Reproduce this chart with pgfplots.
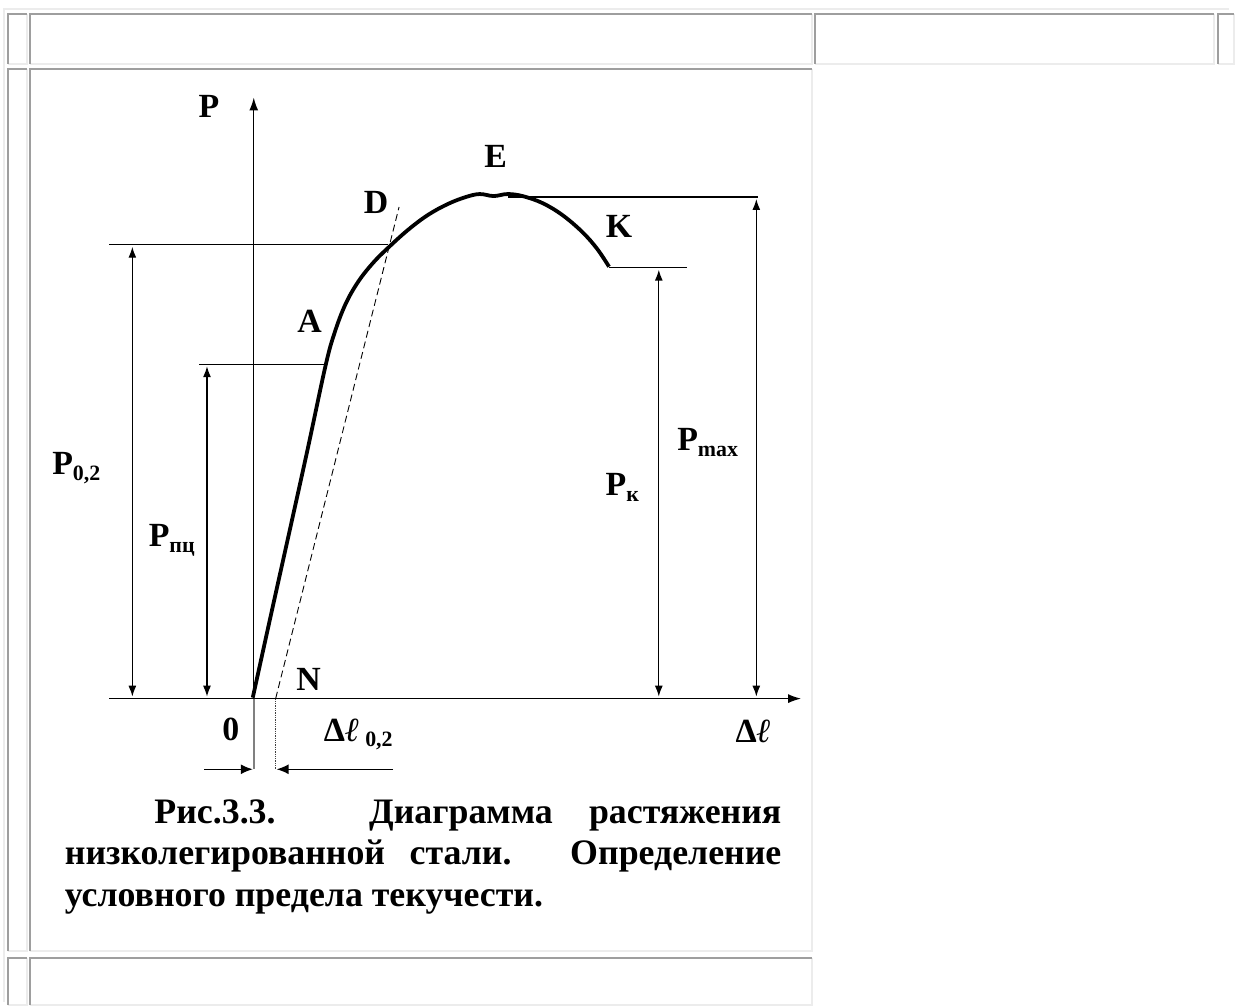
\documentclass[border=0pt]{standalone}
\usepackage{fontspec}
\setmainfont{Liberation Serif}[BoldFont={Liberation Serif Bold}]
\usepackage{pgfplots}
\pgfplotsset{compat=1.18}
\usetikzlibrary{arrows.meta}
\definecolor{bdark}{RGB}{158,158,158}
\definecolor{blight}{RGB}{236,236,236}
\newcommand{\cell}[4]{%
  \addplot[blight,line width=2pt] coordinates {(#1,#4)(#3,#4)(#3,#2)};
  \addplot[bdark,line width=2pt] coordinates {(#1,#4)(#1,#2)(#3,#2)};
}
\newcommand{\lab}{\fontsize{34}{38}\selectfont\bfseries}
\newcommand{\sub}[1]{{\fontsize{22}{22}\selectfont\raisebox{-6pt}{#1}}}
\begin{document}
\begin{tikzpicture}
\begin{axis}[width=1235pt,height=1007pt,scale only axis,
  xmin=0,xmax=1235,ymin=0,ymax=1007,y dir=reverse,hide axis,clip=false]
\addplot[draw=none] coordinates {(0,0)(1235,1007)};
% table frame
\addplot[blight,line width=1.5pt] coordinates {(4,1007)(4,9)(1235,9)};
\cell{8}{14}{27}{64}
\cell{30}{14}{816}{64}
\cell{819}{14}{1220}{64}
\cell{1224}{14}{1240}{64}
\cell{8}{69}{27}{956}
\cell{30}{69}{816}{956}
\cell{8}{963}{27}{1010}
\cell{30}{963}{816}{1010}
% axes
\addplot[black,line width=1.4pt,-{Latex[length=13pt,width=9pt]}] coordinates {(110,702)(805,702)};
\addplot[black,line width=1.4pt,-{Latex[length=13pt,width=9pt]}] coordinates {(255,702)(255,98)};
\addplot[gray,line width=1.8pt] coordinates {(255,702)(255,773)};
\addplot[darkgray,line width=1.3pt,densely dotted] coordinates {(277,702)(277,773)};
\addplot[black,line width=1.4pt,-{Latex[length=12pt,width=10pt]}] coordinates {(205,773)(254,773)};
\addplot[black,line width=1.4pt,-{Latex[length=12pt,width=10pt]}] coordinates {(395,773)(278,773)};
% level lines
\addplot[black,line width=1.3pt] coordinates {(110,246)(390,246)};
\addplot[black,line width=1.3pt] coordinates {(200,366)(327,366)};
\addplot[black,line width=1.3pt] coordinates {(510,198)(762,198)};
\addplot[black,line width=1.3pt] coordinates {(612,269)(690,269)};
% dimension arrows
\addplot[black,line width=1.3pt,{Latex[length=11pt,width=8pt]}-{Latex[length=11pt,width=8pt]}] coordinates {(133,248)(133,700)};
\addplot[black,line width=1.3pt,{Latex[length=11pt,width=8pt]}-{Latex[length=11pt,width=8pt]}] coordinates {(208,368)(208,700)};
\addplot[black,line width=1.3pt,{Latex[length=11pt,width=8pt]}-{Latex[length=11pt,width=8pt]}] coordinates {(662,271)(662,700)};
\addplot[black,line width=1.3pt,{Latex[length=11pt,width=8pt]}-{Latex[length=11pt,width=8pt]}] coordinates {(760,200)(760,700)};
% offset line
\addplot[black,line width=0.9pt,dash pattern=on 7pt off 4pt] coordinates {(277,702)(401,208)};
% curve
\addplot[black,line width=3.8pt,smooth,tension=0.6] coordinates {
(254,701)(272,619)(290,538)(309,452)(327,368)(336,335)(347,306)(360,283)(375,264)(390,249)
(410,231)(430,216)(450,205)(468,198)(482,195)(496,197)(510,195)(525,197)
(545,204)(565,216)(585,233)(600,250)(612,268)};
% labels
\node[font=\lab] at (axis cs:210,107) {P};
\node[font=\lab] at (axis cs:498,157) {E};
\node[font=\lab] at (axis cs:378,203) {D};
\node[font=\lab] at (axis cs:622,228) {K};
\node[font=\lab] at (axis cs:311,323) {A};
\node[font=\lab] at (axis cs:310,683) {N};
\node[font=\lab] at (axis cs:232,733) {0};
\node[font=\lab,anchor=west] at (axis cs:322,738) {Δ\textit{ℓ}\,\sub{0,2}};
\node[font=\lab] at (axis cs:757,735) {Δ\textit{ℓ}};
\node[font=\lab,anchor=west] at (axis cs:49,470) {P\sub{0,2}};
\node[font=\lab,anchor=west] at (axis cs:146,543) {P\sub{пц}};
\node[font=\lab,anchor=west] at (axis cs:605,490) {P\sub{к}};
\node[font=\lab,anchor=west] at (axis cs:677,445) {P\sub{max}};
% caption
\node[anchor=north west,inner sep=0pt,text width=720pt,align=justify,
  font=\fontsize{36}{42}\selectfont\bfseries] at (axis cs:65,803)
  {\hspace*{90pt}Рис.3.3. Диаграмма растяжения\linebreak низколегированной стали. Определение\linebreak условного предела текучести.};
\end{axis}
\end{tikzpicture}
\end{document}
